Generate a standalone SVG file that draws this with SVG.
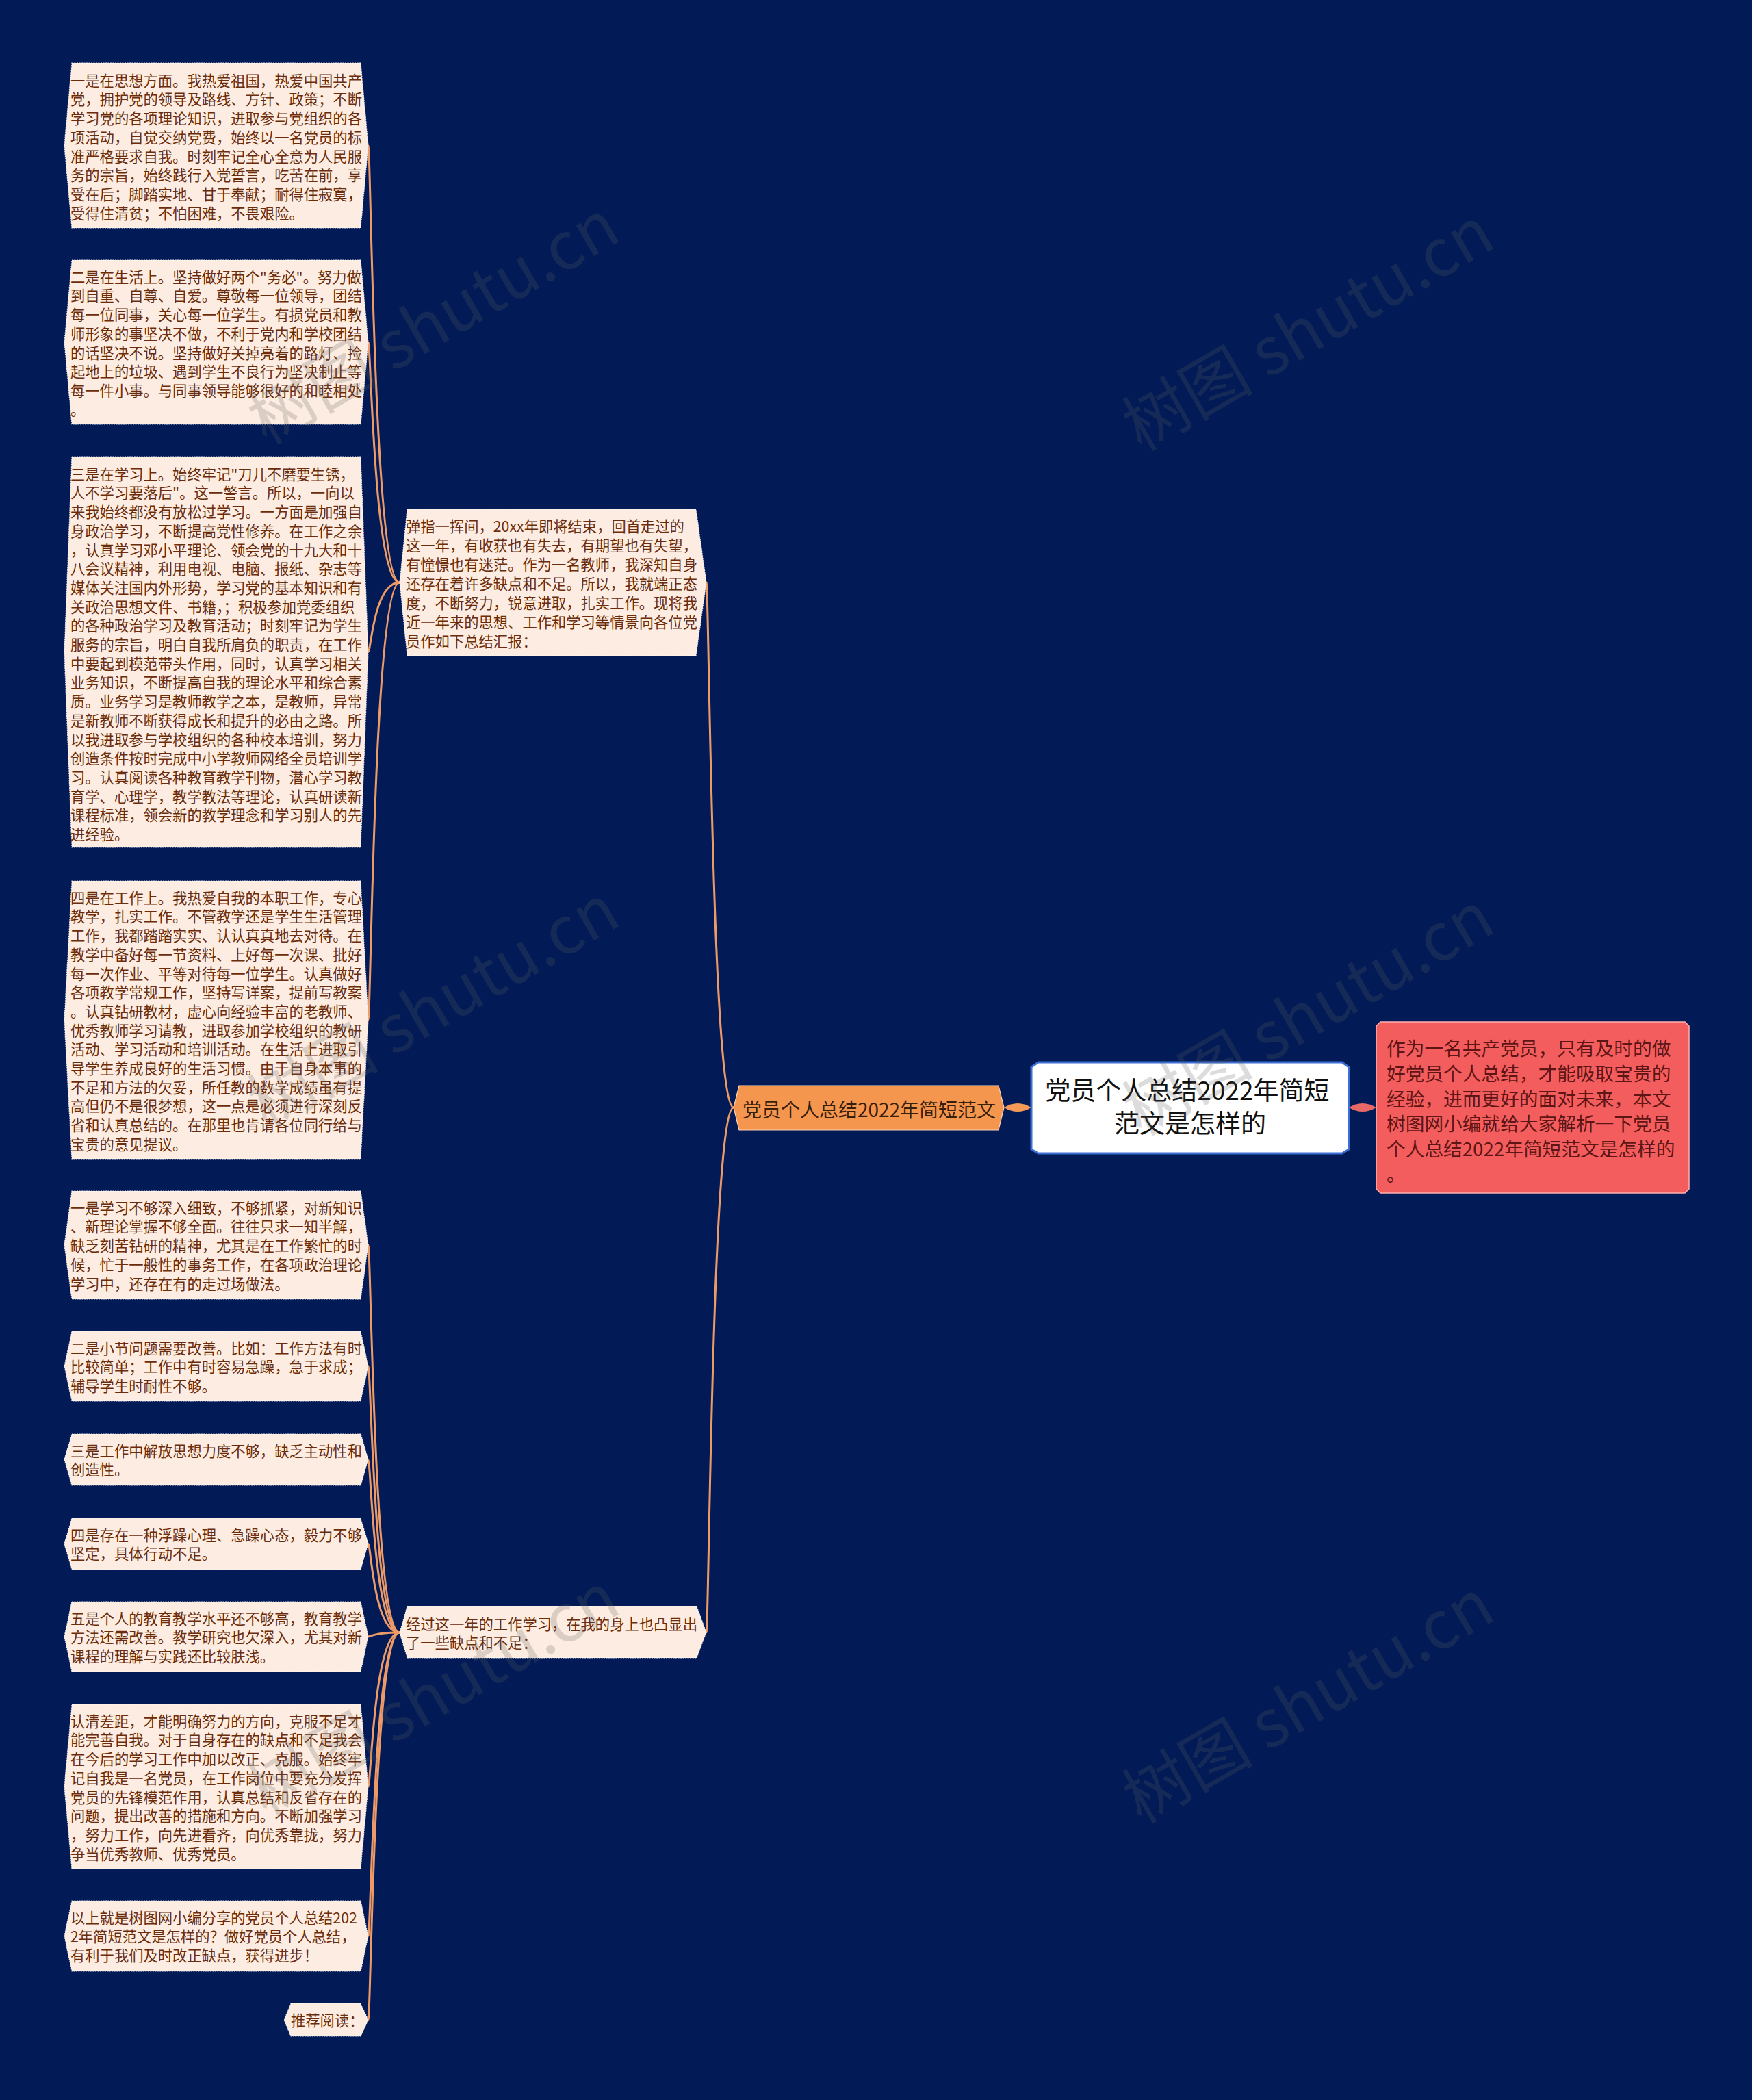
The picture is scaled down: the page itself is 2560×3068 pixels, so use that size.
<svg xmlns="http://www.w3.org/2000/svg" width="2560" height="3068" viewBox="0 0 2560 3068">
<style>
.bg{fill:#021B57}
.leaf{fill:#FDECE1;stroke:#FFFFFF;stroke-opacity:.85;stroke-width:1.2;stroke-dasharray:2 1.5}
.lt{font-family:"Noto Sans CJK SC","Noto Sans",sans-serif;font-size:21.3px;fill:#6B2C0B}
.con{fill:none;stroke:#EE9A66;stroke-width:3}
.wm{font-family:"Noto Sans CJK SC","Noto Sans",sans-serif;font-size:96px;fill:#606060;fill-opacity:.22}
</style>
<rect class="bg" x="0" y="0" width="2560" height="3068"/>

<g id="connectors">
  <path d="M1467,1618 Q1487,1606 1507,1618 Q1487,1630 1467,1618 Z" fill="#F59A56"/>
  <path d="M1971,1618 Q1991,1606 2011,1618 Q1991,1630 1971,1618 Z" fill="#E86767"/>
  <path class="con" d="M1072,1618 C1040,1618 1036,851 1032,851" stroke="#F29552"/>
  <path class="con" d="M1072,1618 C1040,1618 1036,2385 1032,2385" stroke="#F29552"/>
  <path class="con" d="M584,851 C546,851 542,212.5 538,212.5"/>
  <path class="con" d="M584,851 C546,851 542,500 538,500"/>
  <path class="con" d="M584,851 C546,851 542,952.5 538,952.5"/>
  <path class="con" d="M584,851 C546,851 542,1490 538,1490"/>
  <path class="con" d="M584,2385 C546,2385 542,1819 538,1819"/>
  <path class="con" d="M584,2385 C546,2385 542,1996 538,1996"/>
  <path class="con" d="M584,2385 C546,2385 542,2132.5 538,2132.5"/>
  <path class="con" d="M584,2385 C546,2385 542,2255.5 538,2255.5"/>
  <path class="con" d="M584,2385 C546,2385 542,2391 538,2391"/>
  <path class="con" d="M584,2385 C546,2385 542,2610 538,2610"/>
  <path class="con" d="M584,2385 C546,2385 542,2828.5 538,2828.5"/>
  <path class="con" d="M584,2385 C546,2385 542,2951 538,2951"/>
</g>

<g id="root">
  <polygon points="1517,1552 1961,1552 1971,1559 1971,1679 1961,1685 1517,1685 1507,1679 1507,1559" fill="#FFFFFF" stroke="#3B6FD6" stroke-width="3"/>
  <text font-family="'Noto Sans CJK SC','Noto Sans',sans-serif" font-size="37" fill="#111111" text-anchor="middle">
    <tspan x="1739" y="1607">党员个人总结2022年简短</tspan>
    <tspan x="1739" y="1655">范文是怎样的</tspan>
  </text>
</g>

<g id="intro">
  <polygon points="2017,1493 2462,1493 2468,1499 2468,1737 2462,1743 2017,1743 2011,1737 2011,1499" fill="#F35D5D" stroke="#FFB0B0" stroke-width="1.5"/>
  <text font-family="'Noto Sans CJK SC','Noto Sans',sans-serif" font-size="27.7" fill="#5E1515">
    <tspan x="2026" y="1542">作为一名共产党员，只有及时的做</tspan>
    <tspan x="2026" dy="36.8">好党员个人总结，才能吸取宝贵的</tspan>
    <tspan x="2026" dy="36.8">经验，进而更好的面对未来，本文</tspan>
    <tspan x="2026" dy="36.8">树图网小编就给大家解析一下党员</tspan>
    <tspan x="2026" dy="36.8">个人总结2022年简短范文是怎样的</tspan>
    <tspan x="2026" dy="36.8">。</tspan>
  </text>
</g>

<g id="branch">
  <polygon points="1080,1586 1459,1586 1467,1618 1459,1651 1080,1651 1072,1618" fill="#F5964F" stroke="#FFD2B0" stroke-width="1.2"/>
  <text x="1270" y="1632" font-family="'Noto Sans CJK SC','Noto Sans',sans-serif" font-size="28" fill="#3A1E0C" text-anchor="middle">党员个人总结2022年简短范文</text>
</g>

<g id="mid1">
  <polygon class="leaf" points="595,744 1017,744 1032,851 1017,958 595,958 584,851"/>
  <text class="lt">
    <tspan x="593" y="776.7">弹指一挥间，20xx年即将结束，回首走过的</tspan>
    <tspan x="593" dy="28">这一年，有收获也有失去，有期望也有失望，</tspan>
    <tspan x="593" dy="28">有憧憬也有迷茫。作为一名教师，我深知自身</tspan>
    <tspan x="593" dy="28">还存在着许多缺点和不足。所以，我就端正态</tspan>
    <tspan x="593" dy="28">度，不断努力，锐意进取，扎实工作。现将我</tspan>
    <tspan x="593" dy="28">近一年来的思想、工作和学习等情景向各位党</tspan>
    <tspan x="593" dy="28">员作如下总结汇报：</tspan>
  </text>
</g>

<g id="mid2">
  <polygon class="leaf" points="595,2347 1018,2347 1032,2385 1018,2422 595,2422 584,2385"/>
  <text class="lt">
    <tspan x="593" y="2380.7">经过这一年的工作学习，在我的身上也凸显出</tspan>
    <tspan x="593" dy="27">了一些缺点和不足：</tspan>
  </text>
</g>

<g id="leaf1">
  <polygon class="leaf" points="105,92 527,92 538,212.5 527,333 105,333 94,212.5"/>
  <text class="lt">
    <tspan x="103" y="125.7">一是在思想方面。我热爱祖国，热爱中国共产</tspan>
    <tspan x="103" dy="27.7">党，拥护党的领导及路线、方针、政策；不断</tspan>
    <tspan x="103" dy="27.7">学习党的各项理论知识，进取参与党组织的各</tspan>
    <tspan x="103" dy="27.7">项活动，自觉交纳党费，始终以一名党员的标</tspan>
    <tspan x="103" dy="27.7">准严格要求自我。时刻牢记全心全意为人民服</tspan>
    <tspan x="103" dy="27.7">务的宗旨，始终践行入党誓言，吃苦在前，享</tspan>
    <tspan x="103" dy="27.7">受在后；脚踏实地、甘于奉献；耐得住寂寞，</tspan>
    <tspan x="103" dy="27.7">受得住清贫；不怕困难，不畏艰险。</tspan>
  </text>
</g>

<g id="leaf2">
  <polygon class="leaf" points="105,380 527,380 538,500 527,620 105,620 94,500"/>
  <text class="lt">
    <tspan x="103" y="412.7">二是在生活上。坚持做好两个"务必"。努力做</tspan>
    <tspan x="103" dy="27.7">到自重、自尊、自爱。尊敬每一位领导，团结</tspan>
    <tspan x="103" dy="27.7">每一位同事，关心每一位学生。有损党员和教</tspan>
    <tspan x="103" dy="27.7">师形象的事坚决不做，不利于党内和学校团结</tspan>
    <tspan x="103" dy="27.7">的话坚决不说。坚持做好关掉亮着的路灯、捡</tspan>
    <tspan x="103" dy="27.7">起地上的垃圾、遇到学生不良行为坚决制止等</tspan>
    <tspan x="103" dy="27.7">每一件小事。与同事领导能够很好的和睦相处</tspan>
    <tspan x="103" dy="27.7">。</tspan>
  </text>
</g>

<g id="leaf3">
  <polygon class="leaf" points="105,667 527,667 538,952.5 527,1238 105,1238 94,952.5"/>
  <text class="lt">
    <tspan x="103" y="700.7">三是在学习上。始终牢记"刀儿不磨要生锈，</tspan>
    <tspan x="103" dy="27.7">人不学习要落后"。这一警言。所以，一向以</tspan>
    <tspan x="103" dy="27.7">来我始终都没有放松过学习。一方面是加强自</tspan>
    <tspan x="103" dy="27.7">身政治学习，不断提高党性修养。在工作之余</tspan>
    <tspan x="103" dy="27.7">，认真学习邓小平理论、领会党的十九大和十</tspan>
    <tspan x="103" dy="27.7">八会议精神，利用电视、电脑、报纸、杂志等</tspan>
    <tspan x="103" dy="27.7">媒体关注国内外形势，学习党的基本知识和有</tspan>
    <tspan x="103" dy="27.7">关政治思想文件、书籍，；积极参加党委组织</tspan>
    <tspan x="103" dy="27.7">的各种政治学习及教育活动；时刻牢记为学生</tspan>
    <tspan x="103" dy="27.7">服务的宗旨，明白自我所肩负的职责，在工作</tspan>
    <tspan x="103" dy="27.7">中要起到模范带头作用，同时，认真学习相关</tspan>
    <tspan x="103" dy="27.7">业务知识，不断提高自我的理论水平和综合素</tspan>
    <tspan x="103" dy="27.7">质。业务学习是教师教学之本，是教师，异常</tspan>
    <tspan x="103" dy="27.7">是新教师不断获得成长和提升的必由之路。所</tspan>
    <tspan x="103" dy="27.7">以我进取参与学校组织的各种校本培训，努力</tspan>
    <tspan x="103" dy="27.7">创造条件按时完成中小学教师网络全员培训学</tspan>
    <tspan x="103" dy="27.7">习。认真阅读各种教育教学刊物，潜心学习教</tspan>
    <tspan x="103" dy="27.7">育学、心理学，教学教法等理论，认真研读新</tspan>
    <tspan x="103" dy="27.7">课程标准，领会新的教学理念和学习别人的先</tspan>
    <tspan x="103" dy="27.7">进经验。</tspan>
  </text>
</g>

<g id="leaf4">
  <polygon class="leaf" points="105,1287 527,1287 538,1490 527,1693 105,1693 94,1490"/>
  <text class="lt">
    <tspan x="103" y="1319.7">四是在工作上。我热爱自我的本职工作，专心</tspan>
    <tspan x="103" dy="27.7">教学，扎实工作。不管教学还是学生生活管理</tspan>
    <tspan x="103" dy="27.7">工作，我都踏踏实实、认认真真地去对待。在</tspan>
    <tspan x="103" dy="27.7">教学中备好每一节资料、上好每一次课、批好</tspan>
    <tspan x="103" dy="27.7">每一次作业、平等对待每一位学生。认真做好</tspan>
    <tspan x="103" dy="27.7">各项教学常规工作，坚持写详案，提前写教案</tspan>
    <tspan x="103" dy="27.7">。认真钻研教材，虚心向经验丰富的老教师、</tspan>
    <tspan x="103" dy="27.7">优秀教师学习请教，进取参加学校组织的教研</tspan>
    <tspan x="103" dy="27.7">活动、学习活动和培训活动。在生活上进取引</tspan>
    <tspan x="103" dy="27.7">导学生养成良好的生活习惯。由于自身本事的</tspan>
    <tspan x="103" dy="27.7">不足和方法的欠妥，所任教的数学成绩虽有提</tspan>
    <tspan x="103" dy="27.7">高但仍不是很梦想，这一点是必须进行深刻反</tspan>
    <tspan x="103" dy="27.7">省和认真总结的。在那里也肯请各位同行给与</tspan>
    <tspan x="103" dy="27.7">宝贵的意见提议。</tspan>
  </text>
</g>

<g id="leaf5">
  <polygon class="leaf" points="105,1740 527,1740 538,1819 527,1898 105,1898 94,1819"/>
  <text class="lt">
    <tspan x="103" y="1772.7">一是学习不够深入细致，不够抓紧，对新知识</tspan>
    <tspan x="103" dy="27.7">、新理论掌握不够全面。往往只求一知半解，</tspan>
    <tspan x="103" dy="27.7">缺乏刻苦钻研的精神，尤其是在工作繁忙的时</tspan>
    <tspan x="103" dy="27.7">候，忙于一般性的事务工作，在各项政治理论</tspan>
    <tspan x="103" dy="27.7">学习中，还存在有的走过场做法。</tspan>
  </text>
</g>

<g id="leaf6">
  <polygon class="leaf" points="105,1945 527,1945 538,1996 527,2047 105,2047 94,1996"/>
  <text class="lt">
    <tspan x="103" y="1977.7">二是小节问题需要改善。比如：工作方法有时</tspan>
    <tspan x="103" dy="27.7">比较简单；工作中有时容易急躁，急于求成；</tspan>
    <tspan x="103" dy="27.7">辅导学生时耐性不够。</tspan>
  </text>
</g>

<g id="leaf7">
  <polygon class="leaf" points="105,2095 527,2095 538,2132.5 527,2170 105,2170 94,2132.5"/>
  <text class="lt">
    <tspan x="103" y="2127.7">三是工作中解放思想力度不够，缺乏主动性和</tspan>
    <tspan x="103" dy="27.7">创造性。</tspan>
  </text>
</g>

<g id="leaf8">
  <polygon class="leaf" points="105,2218 527,2218 538,2255.5 527,2293 105,2293 94,2255.5"/>
  <text class="lt">
    <tspan x="103" y="2250.7">四是存在一种浮躁心理、急躁心态，毅力不够</tspan>
    <tspan x="103" dy="27.7">坚定，具体行动不足。</tspan>
  </text>
</g>

<g id="leaf9">
  <polygon class="leaf" points="105,2340 527,2340 538,2391 527,2442 105,2442 94,2391"/>
  <text class="lt">
    <tspan x="103" y="2372.7">五是个人的教育教学水平还不够高，教育教学</tspan>
    <tspan x="103" dy="27.7">方法还需改善。教学研究也欠深入，尤其对新</tspan>
    <tspan x="103" dy="27.7">课程的理解与实践还比较肤浅。</tspan>
  </text>
</g>

<g id="leaf10">
  <polygon class="leaf" points="105,2490 527,2490 538,2610 527,2730 105,2730 94,2610"/>
  <text class="lt">
    <tspan x="103" y="2522.7">认清差距，才能明确努力的方向，克服不足才</tspan>
    <tspan x="103" dy="27.7">能完善自我。对于自身存在的缺点和不足我会</tspan>
    <tspan x="103" dy="27.7">在今后的学习工作中加以改正、克服。始终牢</tspan>
    <tspan x="103" dy="27.7">记自我是一名党员，在工作岗位中要充分发挥</tspan>
    <tspan x="103" dy="27.7">党员的先锋模范作用，认真总结和反省存在的</tspan>
    <tspan x="103" dy="27.7">问题，提出改善的措施和方向。不断加强学习</tspan>
    <tspan x="103" dy="27.7">，努力工作，向先进看齐，向优秀靠拢，努力</tspan>
    <tspan x="103" dy="27.7">争当优秀教师、优秀党员。</tspan>
  </text>
</g>

<g id="leaf11">
  <polygon class="leaf" points="105,2777 527,2777 538,2828.5 527,2880 105,2880 94,2828.5"/>
  <text class="lt">
    <tspan x="103" y="2809.7">以上就是树图网小编分享的党员个人总结202</tspan>
    <tspan x="103" dy="27.7">2年简短范文是怎样的？做好党员个人总结，</tspan>
    <tspan x="103" dy="27.7">有利于我们及时改正缺点，获得进步！</tspan>
  </text>
</g>

<g id="leaf12">
  <polygon class="leaf" points="425,2927 527,2927 538,2951 527,2975 425,2975 415,2951"/>
  <text class="lt" x="425" y="2959.7">推荐阅读：</text>
</g>

<g id="watermarks">
  <text class="wm" text-anchor="middle" transform="translate(650,500) rotate(-30)">树图 shutu.cn</text>
  <text class="wm" text-anchor="middle" transform="translate(1928,510) rotate(-30)">树图 shutu.cn</text>
  <text class="wm" text-anchor="middle" transform="translate(650,1500) rotate(-30)">树图 shutu.cn</text>
  <text class="wm" text-anchor="middle" transform="translate(1928,1510) rotate(-30)">树图 shutu.cn</text>
  <text class="wm" text-anchor="middle" transform="translate(650,2505) rotate(-30)">树图 shutu.cn</text>
  <text class="wm" text-anchor="middle" transform="translate(1928,2515) rotate(-30)">树图 shutu.cn</text>
</g>
</svg>
